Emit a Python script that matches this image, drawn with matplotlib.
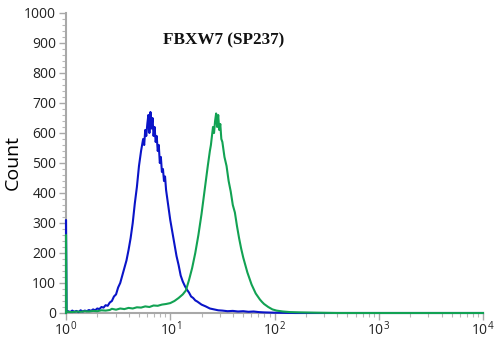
import numpy as np
import matplotlib
matplotlib.use('Agg')
import matplotlib.pyplot as plt
from matplotlib.ticker import MultipleLocator, LogLocator, FixedLocator

# histogram values (x given as log10 of intensity)
blue_logx = [0.0, 0.0, 0.005, 0.02, 0.04, 0.06, 0.08, 0.10, 0.12, 0.14, 0.16, 0.18, 0.20, 0.22, 0.24,
             0.26, 0.28, 0.30, 0.32, 0.34, 0.36, 0.38, 0.40, 0.42, 0.44, 0.46, 0.48, 0.50, 0.52,
             0.54, 0.56, 0.58, 0.60, 0.62, 0.64, 0.66, 0.68, 0.70, 0.72, 0.74, 0.75, 0.76, 0.77, 0.78, 0.79,
             0.80, 0.81, 0.82, 0.83, 0.84, 0.85, 0.86, 0.87, 0.88, 0.89, 0.90, 0.91, 0.92, 0.93, 0.94, 0.95, 0.96, 0.98,
             1.00, 1.02, 1.04, 1.06, 1.08, 1.10, 1.12, 1.14, 1.16, 1.18, 1.20, 1.22, 1.24, 1.26,
             1.28, 1.30, 1.34, 1.38, 1.42, 1.46, 1.50, 1.55, 1.60, 1.65, 1.70, 1.75, 1.80, 1.85,
             1.90, 2.00, 2.20, 4.00]
blue_count = [0, 310, 4, 6, 3, 8, 4, 7, 3, 9, 5, 8, 6, 10, 7,
              12, 9, 15, 13, 20, 18, 26, 24, 35, 40, 55, 62, 85, 100,
              125, 150, 175, 210, 250, 300, 365, 420, 490, 540, 580, 560, 610, 590, 630, 660,
              600, 670, 615, 650, 590, 620, 570, 590, 540, 560, 500, 520, 470, 480, 440, 455, 410, 360,
              310, 270, 230, 190, 160, 125, 105, 90, 78, 68, 55, 50, 42, 38,
              33, 28, 22, 15, 12, 9, 8, 6, 7, 5, 6, 4, 5, 3,
              2, 1, 0, 0]

green_logx = [0.0, 0.0, 0.005, 0.02, 0.06, 0.10, 0.14, 0.18, 0.22, 0.26, 0.30, 0.34, 0.38, 0.42, 0.44,
              0.48, 0.52, 0.56, 0.60, 0.64, 0.68, 0.72, 0.76, 0.80, 0.84, 0.88, 0.92, 0.96,
              1.00, 1.04, 1.08, 1.12, 1.15, 1.18, 1.21, 1.24, 1.27, 1.30, 1.33, 1.36, 1.38, 1.39,
              1.40, 1.41, 1.42, 1.43, 1.44, 1.45, 1.46, 1.47, 1.48, 1.49, 1.50, 1.52, 1.54, 1.56, 1.58, 1.60, 1.62,
              1.64, 1.66, 1.68, 1.70, 1.72, 1.74, 1.76, 1.78, 1.80, 1.82, 1.84, 1.86, 1.88,
              1.90, 1.94, 1.98, 2.02, 2.08, 2.15, 2.25, 2.40, 2.60, 4.00]
green_count = [0, 260, 4, 4, 3, 5, 4, 6, 5, 7, 6, 9, 8, 10, 14,
               11, 15, 13, 17, 15, 19, 18, 22, 20, 25, 24, 28, 30,
               33, 40, 50, 62, 75, 110, 150, 200, 260, 330, 410, 490, 540, 560,
               590, 620, 600, 640, 665, 620, 660, 610, 630, 580, 570, 520, 490, 440, 405, 360, 335,
               290, 250, 215, 185, 160, 135, 115, 95, 80, 65, 55, 45, 37,
               30, 20, 12, 8, 5, 3, 2, 1, 0, 0]

title = 'FBXW7 (SP237)'
ylabel = 'Count'

plt.rcParams['font.family'] = ['Open Sans', 'DejaVu Sans']

fig = plt.figure(figsize=(5.0, 3.39), dpi=100)
ax = fig.add_axes([0.132, 0.0767, 0.834, 0.885])

ax.plot(10 ** np.array(blue_logx), blue_count, color='#0a14c8', lw=1.5, zorder=3, clip_on=False)
ax.plot(10 ** np.array(green_logx), green_count, color='#12a253', lw=1.5, zorder=3, clip_on=False)

ax.set_xscale('log')
ax.set_xlim(1, 1e4)
ax.set_ylim(0, 1000)

ax.yaxis.set_major_locator(MultipleLocator(100))
ax.yaxis.set_minor_locator(MultipleLocator(20))
ax.xaxis.set_major_locator(FixedLocator([1, 10, 100, 1000, 10000]))
ax.xaxis.set_minor_locator(LogLocator(base=10, subs=np.arange(2, 10), numticks=20))

for s in ['top', 'right']:
    ax.spines[s].set_visible(False)
for s in ['left', 'bottom']:
    ax.spines[s].set_color('#a8a8a8')
    ax.spines[s].set_linewidth(1.5)

ax.tick_params(which='major', length=5, width=1, color='#a8a8a8', labelsize=10, labelcolor='#222222')
ax.tick_params(which='minor', length=3, width=0.8, color='#b8b8b8')
ax.tick_params(axis='x', pad=0)
ax.tick_params(axis='y', pad=2)

ax.set_ylabel(ylabel, fontsize=14, labelpad=2)
ax.text(0.233, 0.91, title, transform=ax.transAxes, fontsize=12.3, fontweight='bold',
        family=['Liberation Serif', 'DejaVu Serif'], color='#111111', va='center', ha='left')

fig.savefig('out.png', dpi=100)
